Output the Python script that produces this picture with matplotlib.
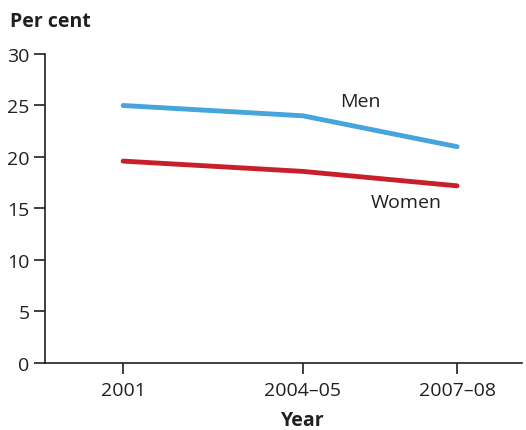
import matplotlib
matplotlib.use("Agg")
import matplotlib.pyplot as plt

plt.rcParams['font.family'] = ['Open Sans', 'DejaVu Sans']

# Survey periods, placed on a numeric year scale
period_labels = ["2001", "2004–05", "2007–08"]
period_x = [2001.0, 2004.5, 2007.5]

men = [25.0, 24.0, 21.0]
women = [19.6, 18.6, 17.2]

y_ticks = [0, 5, 10, 15, 20, 25, 30]

men_color = "#45A5DC"
women_color = "#C8202A"
text_color = "#231F20"

fig = plt.figure(figsize=(5.26, 4.31), dpi=100)
ax = fig.add_axes([0.0856, 0.1555, 0.9064, 0.7169])

ax.plot(period_x, men, color=men_color, lw=3.5, solid_capstyle="round", solid_joinstyle="round")
ax.plot(period_x, women, color=women_color, lw=3.5, solid_capstyle="round", solid_joinstyle="round")

ax.set_xlim(1999.48, 2008.76)
ax.set_ylim(0, 30)
ax.set_xticks(period_x)
ax.set_xticklabels(period_labels)
ax.set_yticks(y_ticks)

for side in ("top", "right"):
    ax.spines[side].set_visible(False)
for side in ("left", "bottom"):
    ax.spines[side].set_linewidth(1.2)
    ax.spines[side].set_color(text_color)

ax.tick_params(axis="both", direction="out", length=8, width=1.2, colors=text_color,
               labelsize=14, labelcolor=text_color)
ax.tick_params(axis="x", pad=5)
ax.tick_params(axis="y", pad=3)

ax.text(2005.22, 25.4, "Men", fontsize=14, color=text_color, ha="left", va="center")
ax.text(2005.82, 15.6, "Women", fontsize=14, color=text_color, ha="left", va="center")

fig.text(10 / 526, 1 - 22 / 431, "Per cent", fontsize=14, fontweight="bold",
         color=text_color, ha="left", va="center")
fig.text(303 / 526, 1 - 421 / 431, "Year", fontsize=14, fontweight="bold",
         color=text_color, ha="center", va="center")

fig.savefig("out.png", dpi=100)
